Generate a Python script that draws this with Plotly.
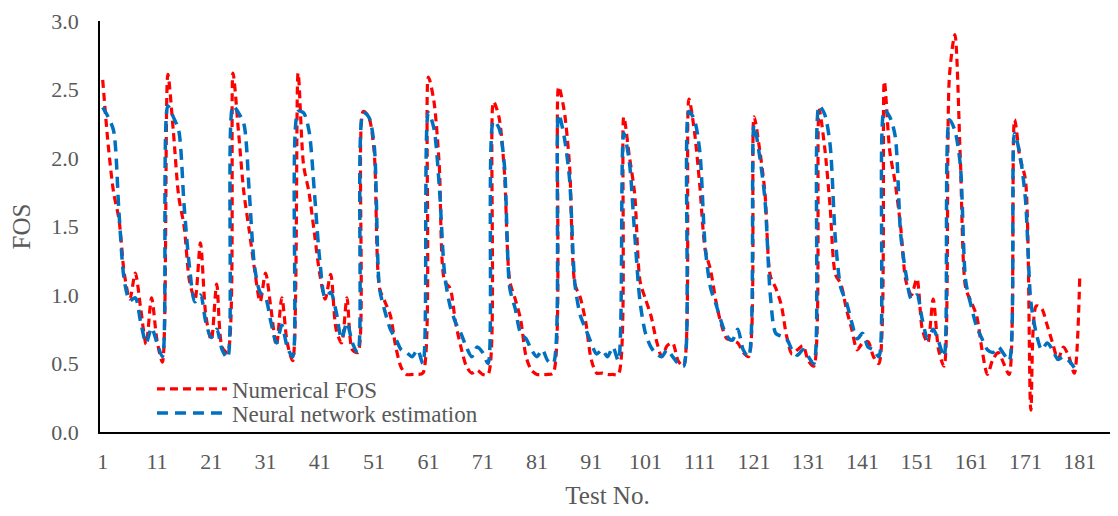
import plotly.graph_objects as go

test_no = list(range(1, 182))

numerical_fos = [
    2.57, 2.1, 1.75, 1.55, 1.15, 0.97, 1.16, 0.9, 0.64, 0.98, 0.67, 0.51,
    2.61, 2.2, 1.72, 1.5, 1.1, 0.97, 1.38, 0.85, 0.67, 1.08, 0.62, 0.58,
    2.62, 2.2, 1.75, 1.47, 1.18, 0.95, 1.16, 0.9, 0.63, 0.98, 0.65, 0.52,
    2.62, 1.95, 1.75, 1.45, 1.15, 0.97, 1.15, 0.75, 0.65, 0.98, 0.6, 0.58,
    2.34, 2.3, 2.05, 1.05, 0.95, 0.85, 0.62, 0.47, 0.42, 0.42, 0.42, 0.43,
    2.59, 2.42, 1.95, 1.1, 1.05, 0.8, 0.62, 0.48, 0.43, 0.45, 0.42, 0.42,
    2.41, 2.3, 1.9, 1.1, 0.97, 0.82, 0.55, 0.45, 0.42, 0.42, 0.42, 0.43,
    2.52, 2.35, 1.95, 1.08, 0.98, 0.8, 0.53, 0.43, 0.43, 0.42, 0.42, 0.42,
    2.3, 2.02, 1.74, 1.1, 0.97, 0.85, 0.67, 0.55, 0.63, 0.65, 0.52, 0.48,
    2.43, 2.2, 1.8, 1.33, 1.18, 0.95, 0.78, 0.68, 0.67, 0.65, 0.58, 0.55,
    2.3, 2.07, 1.75, 1.14, 1.05, 0.93, 0.7, 0.57, 0.6, 0.63, 0.52, 0.48,
    2.35, 2.08, 1.65, 1.15, 1.08, 0.9, 0.75, 0.6, 0.65, 0.66, 0.55, 0.5,
    2.56, 2.05, 1.82, 1.5, 1.1, 1.0, 1.12, 0.75, 0.65, 0.97, 0.6, 0.48,
    2.6, 2.9, 2.0, 1.05, 0.95, 0.85, 0.6, 0.42, 0.53, 0.58, 0.5, 0.42,
    2.28, 2.0, 1.84, 0.16, 0.92, 0.9, 0.78, 0.65, 0.53, 0.62, 0.55, 0.43,
    1.13,
]

nn_estimation = [
    2.37, 2.3, 2.2, 1.6, 1.1, 0.96, 0.98, 0.8, 0.65, 0.76, 0.65, 0.55,
    2.38, 2.3, 2.2, 1.65, 1.2, 0.95, 1.0, 0.8, 0.69, 0.75, 0.6, 0.54,
    2.38, 2.33, 2.25, 1.75, 1.2, 1.02, 0.98, 0.8, 0.65, 0.78, 0.62, 0.55,
    2.34, 2.33, 2.2, 1.75, 1.25, 0.98, 1.02, 0.88, 0.68, 0.8, 0.65, 0.58,
    2.33, 2.3, 2.1, 1.05, 0.88, 0.75, 0.68, 0.6, 0.58, 0.55, 0.6, 0.5,
    2.33, 2.22, 1.8, 1.15, 0.92, 0.8, 0.72, 0.62, 0.55, 0.62, 0.58, 0.5,
    2.27, 2.22, 1.95, 1.05, 0.9, 0.72, 0.68, 0.6, 0.55, 0.6, 0.52, 0.5,
    2.32, 2.16, 1.85, 1.08, 0.85, 0.75, 0.65, 0.57, 0.6, 0.55, 0.62, 0.52,
    2.18, 1.98, 1.45, 0.95, 0.72, 0.62, 0.57, 0.55, 0.6, 0.55, 0.5, 0.48,
    2.34, 2.28, 2.05, 1.35, 1.05, 0.93, 0.8, 0.7, 0.67, 0.75, 0.6, 0.55,
    2.24, 2.02, 1.7, 1.0, 0.72, 0.7, 0.68, 0.6, 0.56, 0.6, 0.55, 0.5,
    2.38, 2.32, 2.1, 1.4, 1.05, 0.95, 0.8, 0.68, 0.72, 0.62, 0.6, 0.55,
    2.35, 2.3, 2.16, 1.45, 1.15, 0.97, 1.0, 0.82, 0.68, 0.75, 0.66, 0.55,
    2.28, 2.2, 1.95, 1.1, 0.92, 0.77, 0.68, 0.6, 0.58, 0.62, 0.57, 0.52,
    2.18, 2.02, 1.7, 0.95, 0.72, 0.6, 0.65, 0.6, 0.53, 0.55, 0.52, 0.47,
    None,
]

x_tick_vals = list(range(1, 182, 10))
y_tick_vals = [0.0, 0.5, 1.0, 1.5, 2.0, 2.5, 3.0]

TEXT = "#595959"
FONT = "Liberation Serif"

fig = go.Figure()
fig.add_trace(go.Scatter(
    x=test_no, y=numerical_fos, mode="lines", name="Numerical FOS",
    line=dict(color="#FF0000", width=3.2, dash="8px,5px", shape="spline", smoothing=0.8),
    legend="legend",
))
fig.add_trace(go.Scatter(
    x=test_no, y=nn_estimation, mode="lines", name="Neural network estimation",
    line=dict(color="#0070C0", width=3.5, dash="11px,7px", shape="spline", smoothing=0.8),
    legend="legend2",
))

legend_common = dict(
    xanchor="left", yanchor="middle", bgcolor="rgba(0,0,0,0)",
    font=dict(family=FONT, size=23, color=TEXT), itemwidth=70,
)

fig.update_layout(
    width=1110, height=508,
    margin=dict(l=92, r=3, t=13, b=84),
    paper_bgcolor="white", plot_bgcolor="white",
    font=dict(family=FONT, size=22, color=TEXT),
    showlegend=True,
    legend=dict(x=0.0512, y=0.1046, **legend_common),
    legend2=dict(x=0.0512, y=0.0462, **legend_common),
    xaxis=dict(
        range=[0.5, 187.5], tickmode="array", tickvals=x_tick_vals,
        ticktext=[str(v) for v in x_tick_vals], automargin=False,
        showgrid=False, zeroline=False, showline=True, linecolor="black", linewidth=1.6,
        ticks="", ticklabelstandoff=9, tickfont=dict(family=FONT, size=22, color=TEXT),
        title=dict(text="Test No.", font=dict(family=FONT, size=25, color=TEXT), standoff=13),
    ),
    yaxis=dict(
        range=[0, 3.0], tickmode="array", tickvals=y_tick_vals,
        ticktext=[f"{v:.1f}" for v in y_tick_vals], automargin=False,
        showgrid=False, zeroline=False, showline=True, linecolor="black", linewidth=1.6,
        ticks="", ticklabelstandoff=15, tickfont=dict(family=FONT, size=22, color=TEXT),
        title=dict(text="FOS", font=dict(family=FONT, size=25, color=TEXT), standoff=20),
    ),
)

fig.write_html("out.html")
